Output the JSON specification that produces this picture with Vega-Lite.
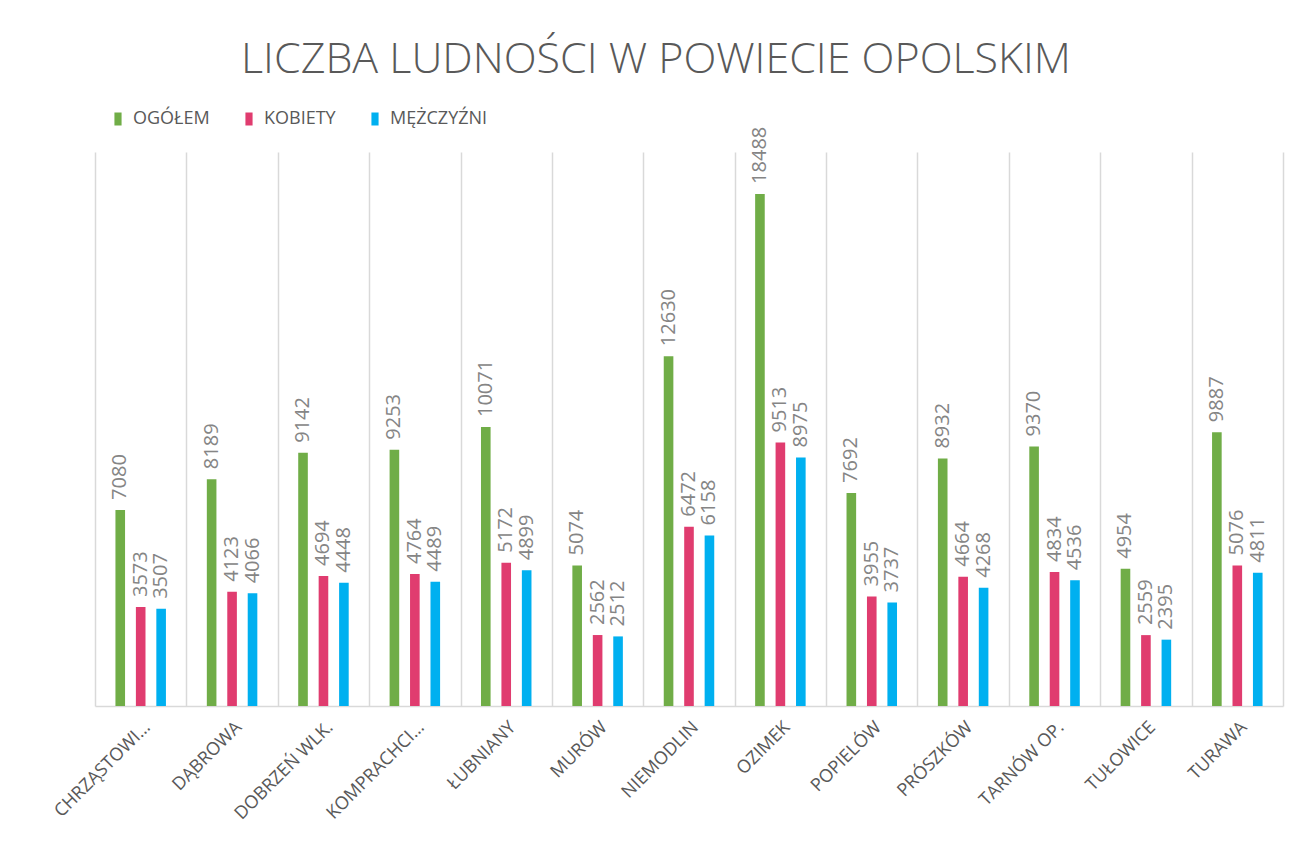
{
  "$schema": "https://vega.github.io/schema/vega-lite/v6.json",
  "autosize": {"type": "none"},
  "width": 1188,
  "height": 554,
  "padding": {"left": 95, "top": 152, "right": 10, "bottom": 155},
  "background": "white",
  "title": {
    "text": "LICZBA LUDNOŚCI W POWIECIE OPOLSKIM",
    "font": "Open Sans",
    "fontWeight": 300,
    "fontSize": 43,
    "color": "#595959",
    "anchor": "middle",
    "dx": -33,
    "offset": 28
  },
  "config": {
    "view": {"stroke": null},
    "font": "Open Sans"
  },
  "data": {
    "values": [
      {"gmina": "CHRZĄSTOWICE", "seria": "OGÓŁEM", "liczba": 7080},
      {"gmina": "CHRZĄSTOWICE", "seria": "KOBIETY", "liczba": 3573},
      {"gmina": "CHRZĄSTOWICE", "seria": "MĘŻCZYŹNI", "liczba": 3507},
      {"gmina": "DĄBROWA", "seria": "OGÓŁEM", "liczba": 8189},
      {"gmina": "DĄBROWA", "seria": "KOBIETY", "liczba": 4123},
      {"gmina": "DĄBROWA", "seria": "MĘŻCZYŹNI", "liczba": 4066},
      {"gmina": "DOBRZEŃ WLK.", "seria": "OGÓŁEM", "liczba": 9142},
      {"gmina": "DOBRZEŃ WLK.", "seria": "KOBIETY", "liczba": 4694},
      {"gmina": "DOBRZEŃ WLK.", "seria": "MĘŻCZYŹNI", "liczba": 4448},
      {"gmina": "KOMPRACHCICE", "seria": "OGÓŁEM", "liczba": 9253},
      {"gmina": "KOMPRACHCICE", "seria": "KOBIETY", "liczba": 4764},
      {"gmina": "KOMPRACHCICE", "seria": "MĘŻCZYŹNI", "liczba": 4489},
      {"gmina": "ŁUBNIANY", "seria": "OGÓŁEM", "liczba": 10071},
      {"gmina": "ŁUBNIANY", "seria": "KOBIETY", "liczba": 5172},
      {"gmina": "ŁUBNIANY", "seria": "MĘŻCZYŹNI", "liczba": 4899},
      {"gmina": "MURÓW", "seria": "OGÓŁEM", "liczba": 5074},
      {"gmina": "MURÓW", "seria": "KOBIETY", "liczba": 2562},
      {"gmina": "MURÓW", "seria": "MĘŻCZYŹNI", "liczba": 2512},
      {"gmina": "NIEMODLIN", "seria": "OGÓŁEM", "liczba": 12630},
      {"gmina": "NIEMODLIN", "seria": "KOBIETY", "liczba": 6472},
      {"gmina": "NIEMODLIN", "seria": "MĘŻCZYŹNI", "liczba": 6158},
      {"gmina": "OZIMEK", "seria": "OGÓŁEM", "liczba": 18488},
      {"gmina": "OZIMEK", "seria": "KOBIETY", "liczba": 9513},
      {"gmina": "OZIMEK", "seria": "MĘŻCZYŹNI", "liczba": 8975},
      {"gmina": "POPIELÓW", "seria": "OGÓŁEM", "liczba": 7692},
      {"gmina": "POPIELÓW", "seria": "KOBIETY", "liczba": 3955},
      {"gmina": "POPIELÓW", "seria": "MĘŻCZYŹNI", "liczba": 3737},
      {"gmina": "PRÓSZKÓW", "seria": "OGÓŁEM", "liczba": 8932},
      {"gmina": "PRÓSZKÓW", "seria": "KOBIETY", "liczba": 4664},
      {"gmina": "PRÓSZKÓW", "seria": "MĘŻCZYŹNI", "liczba": 4268},
      {"gmina": "TARNÓW OP.", "seria": "OGÓŁEM", "liczba": 9370},
      {"gmina": "TARNÓW OP.", "seria": "KOBIETY", "liczba": 4834},
      {"gmina": "TARNÓW OP.", "seria": "MĘŻCZYŹNI", "liczba": 4536},
      {"gmina": "TUŁOWICE", "seria": "OGÓŁEM", "liczba": 4954},
      {"gmina": "TUŁOWICE", "seria": "KOBIETY", "liczba": 2559},
      {"gmina": "TUŁOWICE", "seria": "MĘŻCZYŹNI", "liczba": 2395},
      {"gmina": "TURAWA", "seria": "OGÓŁEM", "liczba": 9887},
      {"gmina": "TURAWA", "seria": "KOBIETY", "liczba": 5076},
      {"gmina": "TURAWA", "seria": "MĘŻCZYŹNI", "liczba": 4811}
    ]
  },
  "encoding": {
    "x": {
      "field": "gmina",
      "type": "nominal",
      "sort": null,
      "scale": {"paddingInner": 0, "paddingOuter": 0},
      "axis": {
        "title": null,
        "labelAngle": -45,
        "labelFontSize": 18,
        "labelColor": "#595959",
        "labelPadding": 12,
        "labelLimit": 200,
        "labelExpr": "datum.label == 'CHRZĄSTOWICE' ? 'CHRZĄSTOWI…' : datum.label == 'KOMPRACHCICE' ? 'KOMPRACHCI…' : datum.label",
        "ticks": false,
        "grid": true,
        "tickBand": "extent",
        "gridColor": "#d9d9d9",
        "gridWidth": 1.5,
        "domainColor": "#d9d9d9",
        "domainWidth": 1.5
      }
    },
    "xOffset": {
      "field": "seria",
      "type": "nominal",
      "sort": ["OGÓŁEM", "KOBIETY", "MĘŻCZYŹNI"],
      "scale": {"paddingInner": 0.53, "paddingOuter": 1.17}
    },
    "y": {
      "field": "liczba",
      "type": "quantitative",
      "scale": {"domain": [0, 20000], "nice": false},
      "axis": null
    }
  },
  "layer": [
    {
      "mark": {"type": "bar"},
      "encoding": {
        "color": {
          "field": "seria",
          "type": "nominal",
          "sort": ["OGÓŁEM", "KOBIETY", "MĘŻCZYŹNI"],
          "scale": {
            "domain": ["OGÓŁEM", "KOBIETY", "MĘŻCZYŹNI"],
            "range": ["#70ad47", "#e03c6f", "#00b0f0"]
          },
          "legend": {
            "title": null,
            "orient": "none",
            "direction": "horizontal",
            "legendX": 14,
            "legendY": -42,
            "labelFontSize": 18,
            "labelColor": "#595959",
            "symbolType": "M-0.55,-1H0.55V1H-0.55Z",
            "symbolSize": 169,
            "symbolStrokeWidth": 0,
            "symbolOpacity": 1,
            "columnPadding": 30,
            "labelOffset": 6
          }
        }
      }
    },
    {
      "mark": {
        "type": "text",
        "angle": 270,
        "align": "left",
        "baseline": "middle",
        "dx": 10,
        "fontSize": 20,
        "color": "#858585"
      },
      "encoding": {
        "text": {"field": "liczba", "type": "quantitative", "format": "d"}
      }
    }
  ]
}
